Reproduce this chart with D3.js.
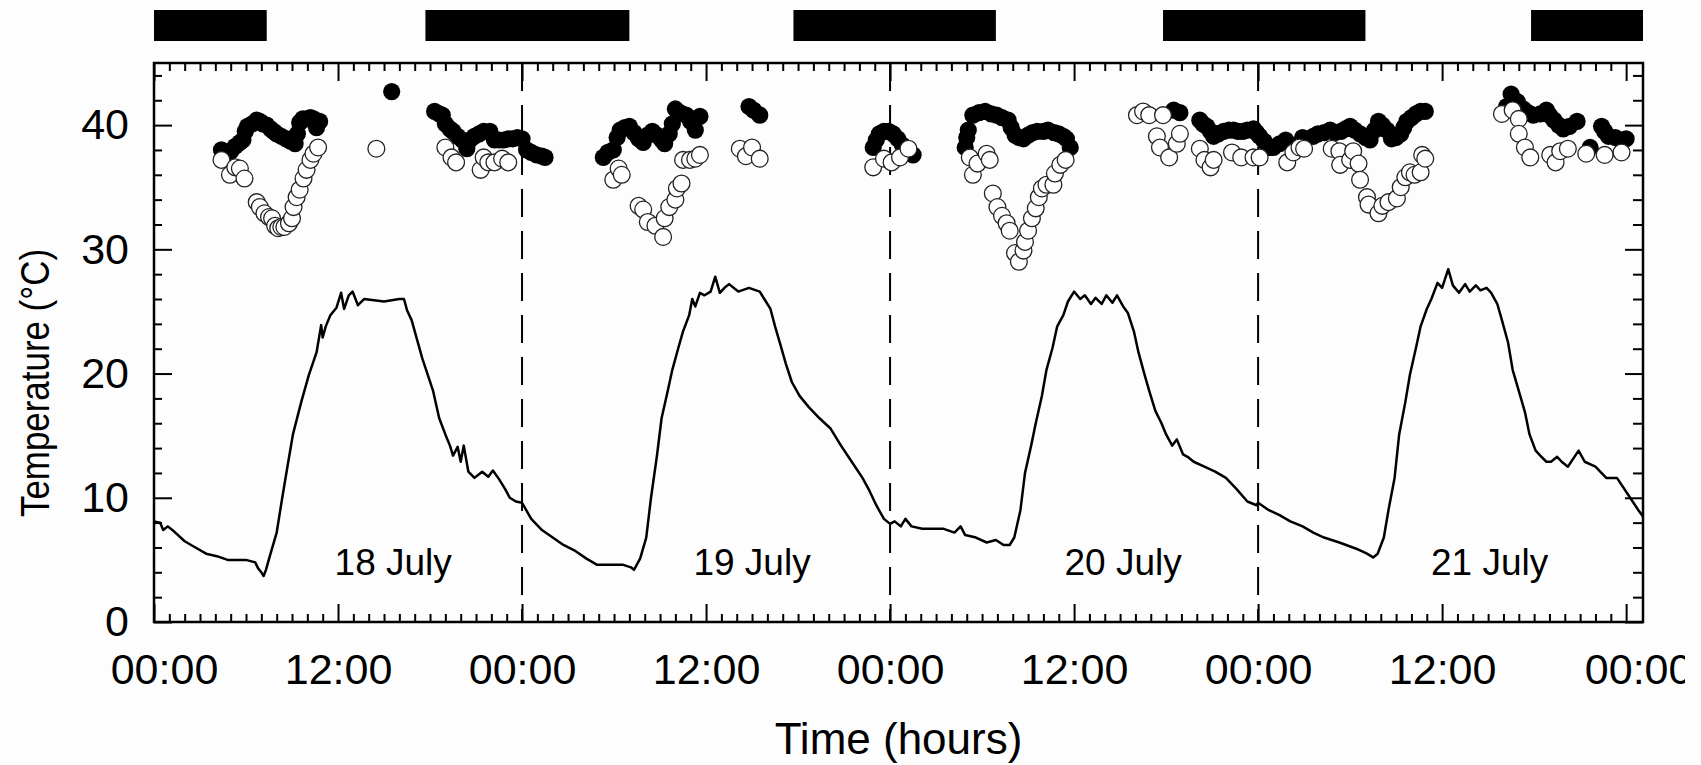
<!DOCTYPE html>
<html>
<head>
<meta charset="utf-8">
<script src="https://cdn.jsdelivr.net/npm/d3@7"></script>
<style>
  body { margin: 0; background: #fdfdfd; }
  svg text { font-family: "Liberation Sans", Arial, sans-serif; fill: #000; }
</style>
</head>
<body>
<div id="chart"></div>
<script>
// air temperature trace (hours since 00:00 on 18 July, degrees C)
var lineHours = [0, 0.4, 0.6, 0.9, 1.3, 2.0, 2.7, 3.4, 4.1, 4.8, 6.0, 6.6, 6.8, 7.0, 7.15, 7.3, 7.6, 8.0, 8.35, 8.7, 9.06, 9.6, 10.1, 10.6, 10.9, 11.0, 11.2, 11.5, 11.9, 12.2, 12.4, 12.7, 12.95, 13.3, 13.7, 15.0, 16.0, 16.3, 16.5, 16.8, 17.5, 18.2, 18.6, 19.0, 19.3, 19.5, 19.8, 20.0, 20.2, 20.5, 20.9, 21.4, 21.8, 22.1, 22.5, 22.9, 23.2, 23.6, 24.0,
  24.6, 25.3, 26.0, 26.7, 27.5, 28.2, 28.9, 29.6, 30.6, 31.1, 31.3, 31.7, 32.1, 32.4, 32.8, 33.1, 33.5, 33.8, 34.2, 34.5, 34.9, 35.1, 35.3, 35.6, 35.9, 36.3, 36.6, 36.9, 37.2, 37.5, 38.1, 38.8, 39.5, 39.8, 40.2, 40.5, 40.9, 41.2, 41.6, 42.1, 42.7, 43.4, 44.1, 44.8, 45.5, 46.2, 46.6, 47.1, 47.6, 48.0,
  48.3, 48.7, 49.0, 49.4, 50.1, 51.5, 52.2, 52.6, 52.9, 53.6, 54.3, 54.9, 55.4, 55.8, 56.1, 56.5, 56.8, 57.2, 57.5, 57.9, 58.2, 58.6, 58.9, 59.3, 59.6, 60.0, 60.4, 60.7, 61.1, 61.4, 61.8, 62.1, 62.5, 62.8, 63.2, 63.5, 63.9, 64.2, 64.6, 64.9, 65.3, 65.7, 66.0, 66.4, 66.7, 67.1, 67.4, 67.8, 68.5, 69.2, 69.9, 70.6, 71.3, 71.9,
  72.0, 72.7, 73.4, 74.1, 74.9, 75.6, 76.3, 77.3, 78.4, 79.1, 79.5, 79.8, 80.2, 80.5, 80.9, 81.2, 81.6, 81.9, 82.3, 82.6, 83.0, 83.3, 83.7, 84.0, 84.4, 84.7, 85.1, 85.5, 85.8, 86.2, 86.5, 86.9, 87.2, 87.6, 87.9, 88.3, 88.6, 89.0, 89.4, 89.7, 90.1, 90.4, 90.8, 91.1, 91.5, 91.8, 92.2, 92.9, 93.3, 94.0, 94.7, 95.4, 96.1, 96.8, 97.1];
var lineTemps = [8.1, 8.0, 7.4, 7.7, 7.3, 6.5, 6.0, 5.5, 5.3, 5.0, 5.0, 4.8, 4.3, 4.0, 3.7, 4.2, 5.5, 7.2, 9.9, 12.5, 15.1, 17.7, 19.9, 21.7, 23.9, 22.9, 23.8, 24.7, 25.3, 26.5, 25.2, 26.3, 26.6, 25.5, 26.0, 25.8, 26.0, 26.0, 25.1, 24.3, 21.2, 18.6, 16.4, 15.1, 14.2, 13.4, 14.1, 12.9, 14.2, 12.1, 11.6, 12.1, 11.7, 12.2, 11.5, 10.7, 10.0, 9.7, 9.6,
  8.3, 7.4, 6.8, 6.2, 5.7, 5.1, 4.6, 4.6, 4.6, 4.4, 4.2, 5.1, 6.8, 9.9, 13.4, 16.4, 18.6, 20.3, 22.1, 23.4, 24.7, 26.0, 25.4, 26.5, 26.3, 26.6, 27.8, 26.5, 26.9, 27.2, 26.6, 26.9, 26.6, 26.0, 25.2, 23.8, 22.1, 20.8, 19.3, 18.2, 17.3, 16.4, 15.6, 14.2, 12.9, 11.6, 10.7, 9.4, 8.3, 7.9,
  8.1, 7.7, 8.3, 7.7, 7.5, 7.5, 7.2, 7.7, 7.0, 6.8, 6.4, 6.6, 6.2, 6.2, 6.8, 9.0, 12.0, 14.2, 16.0, 18.2, 20.3, 22.1, 23.8, 24.7, 25.8, 26.6, 26.0, 26.3, 25.6, 26.1, 25.6, 26.3, 25.7, 26.3, 25.4, 24.9, 23.4, 21.7, 19.9, 18.6, 17.0, 16.0, 15.1, 14.2, 14.7, 13.5, 13.3, 12.9, 12.5, 12.1, 11.6, 10.7, 9.7, 9.4,
  9.6, 9.0, 8.6, 8.1, 7.7, 7.2, 6.8, 6.4, 5.9, 5.5, 5.2, 5.5, 6.8, 9.0, 11.6, 15.1, 17.7, 19.9, 22.1, 23.8, 25.2, 26.0, 27.3, 26.9, 28.4, 27.1, 26.5, 27.2, 26.6, 27.1, 26.7, 26.9, 26.5, 25.6, 24.3, 22.5, 20.3, 18.6, 16.9, 15.1, 13.8, 13.4, 12.9, 12.9, 13.3, 12.9, 12.5, 13.8, 12.9, 12.5, 11.6, 11.6, 10.3, 9.0, 8.5];

// body temperature, filled circles
var filledHours = [4.4, 4.7, 5.0, 5.3, 5.6, 5.8, 5.95, 6.1, 6.4, 6.7, 6.9, 7.1, 7.35, 7.6, 7.8, 8.0, 8.3, 8.6, 8.9, 9.2, 9.35, 9.5, 9.7, 9.95, 10.2, 10.4, 10.6, 10.8,
  15.5,
  18.3, 18.6, 18.8, 19.0, 19.3, 19.5, 19.8, 20.1, 20.4, 20.6, 20.9, 21.2, 21.5, 21.9, 22.2, 22.5, 22.8, 23.1, 23.4, 23.7, 24.0, 24.3, 24.6, 24.95, 25.3, 25.5,
  29.3, 29.6, 29.95, 30.2, 30.4, 30.7, 31.0, 31.3, 31.6, 31.9, 32.2, 32.5, 32.8, 33.1, 33.3, 33.6, 33.8, 34.0, 34.3, 34.7, 35.0, 35.3, 35.6,
  38.8, 39.1, 39.5,
  46.9, 47.1, 47.3, 47.6, 47.9, 48.2, 48.5, 48.8, 49.1, 49.5,
  52.9, 53.0, 53.1, 53.4, 53.8, 54.2, 54.6, 54.95, 55.3, 55.7, 55.9, 56.15, 56.4, 56.7, 57.0, 57.3, 57.6, 58.0, 58.3, 58.7, 59.0, 59.3, 59.5, 59.75,
  66.5, 66.9, 68.2, 68.4, 68.65, 68.9, 69.1, 69.4, 69.75, 70.1, 70.4, 70.7, 71.0, 71.3, 71.7, 71.9, 72.1, 72.4, 72.7, 73.0, 73.4, 73.8, 74.3, 74.9,
  75.6, 75.9, 76.3, 76.7, 77.0, 77.4, 77.7, 78.0, 78.3, 78.65, 79.0, 79.3, 79.6, 79.85, 80.1, 80.4, 80.7, 81.0, 81.3, 81.5, 81.7, 82.0, 82.3, 82.6, 82.9,
  88.2, 88.5, 88.9, 89.3, 89.6, 89.95, 90.4, 90.8, 91.0, 91.3, 91.6, 91.9, 92.3, 92.8, 93.65, 94.4, 94.6, 94.85, 95.3, 96.0];
var filledTemps = [38.0, 37.7, 37.9, 38.3, 38.6, 38.8, 39.5, 39.9, 40.1, 40.4, 40.3, 40.1, 40.0, 39.7, 39.5, 39.3, 39.1, 38.9, 38.7, 38.5, 39.3, 40.2, 40.5, 40.5, 40.6, 40.5, 39.8, 40.3,
  42.7,
  41.1, 40.9, 40.8, 40.1, 39.7, 39.5, 39.1, 38.8, 38.1, 38.8, 39.1, 39.3, 39.5, 39.5, 38.8, 38.8, 38.8, 38.9, 38.9, 39.0, 38.9, 38.0, 37.8, 37.6, 37.5, 37.4,
  37.4, 37.8, 38.0, 39.0, 39.6, 39.8, 39.9, 39.4, 38.9, 38.6, 39.2, 39.5, 39.2, 38.8, 38.5, 39.3, 40.1, 41.3, 41.0, 40.8, 40.3, 39.6, 40.7,
  41.5, 41.2, 40.8,
  38.2, 38.8, 39.3, 39.5, 39.5, 39.3, 38.9, 38.4, 38.0, 37.6,
  38.2, 39.0, 39.6, 40.8, 41.0, 41.1, 40.9, 40.8, 40.6, 40.4, 39.8, 39.2, 39.0, 38.9, 39.2, 39.4, 39.5, 39.5, 39.6, 39.4, 39.3, 39.1, 38.9, 38.2,
  41.2, 41.0, 40.4, 40.1, 39.9, 39.5, 39.1, 39.3, 39.5, 39.6, 39.6, 39.5, 39.5, 39.6, 39.7, 39.4, 39.1, 38.7, 38.2, 38.2, 38.5, 38.8, 38.3, 39.0,
  39.1, 39.3, 39.4, 39.6, 39.4, 39.5, 39.7, 39.9, 39.6, 39.3, 39.0, 38.8, 39.6, 40.3, 40.0, 39.6, 38.9, 39.0, 39.3, 39.8, 40.3, 40.6, 40.9, 41.1, 41.1,
  41.5, 42.5, 41.9, 41.3, 41.0, 40.8, 40.9, 41.2, 40.8, 40.4, 40.0, 39.7, 39.9, 40.3, 38.2, 39.9, 39.5, 39.1, 39.0, 38.9];

// body temperature, open circles
var openHours = [4.4, 4.95, 5.3, 5.6, 5.9, 6.7, 6.9, 7.2, 7.5, 7.7, 7.9, 8.1, 8.3, 8.5, 8.8, 9.0, 9.1, 9.3, 9.5, 9.75, 9.95, 10.2, 10.4, 10.7,
  14.5,
  19.0, 19.4, 19.7, 21.3, 21.5, 21.8, 22.2, 22.7, 23.1,
  29.95, 30.3, 30.5, 31.6, 31.9, 32.2, 32.7, 33.2, 33.3, 33.6, 34.0, 34.1, 34.4, 34.5, 34.95, 35.3, 35.6,
  38.2, 38.6, 39.0, 39.5,
  46.9, 47.6, 48.1, 48.65, 49.2,
  53.2, 53.4, 53.7, 54.3, 54.5, 54.7, 55.0, 55.3, 55.6, 55.8, 56.15, 56.4, 56.7, 56.8, 57.0, 57.25, 57.5, 57.7, 57.9, 58.2, 58.65, 58.75, 59.1, 59.45,
  64.1, 64.5, 64.9, 65.8, 65.4, 65.6, 66.2, 66.7, 66.9,
  68.2, 68.5, 68.9, 69.1, 70.3, 70.9, 71.7, 72.1, 73.9, 74.3, 74.7, 75.0,
  76.8, 77.3, 77.35, 78.0, 78.2, 78.55, 78.65, 79.1, 79.2, 79.85, 80.1, 80.5, 81.05, 81.3, 81.6, 81.9, 82.2, 82.6, 82.7, 82.9,
  87.9, 88.6, 89.0, 89.0, 89.4, 89.75, 91.05, 91.4, 91.7, 92.2, 93.4, 94.6, 95.7];
var openTemps = [37.2, 36.0, 36.6, 36.5, 35.7, 33.8, 33.4, 32.9, 32.6, 32.5, 31.9, 31.7, 31.8, 31.8, 32.1, 32.5, 33.4, 34.2, 34.8, 35.7, 36.4, 37.2, 37.7, 38.2,
  38.1,
  38.2, 37.4, 37.0, 36.4, 37.4, 37.0, 37.0, 37.3, 37.0,
  35.6, 36.5, 36.0, 33.5, 33.2, 32.2, 31.9, 31.0, 32.5, 33.4, 34.0, 34.9, 35.3, 37.2, 37.2, 37.3, 37.6,
  38.1, 37.5, 38.2, 37.3,
  36.6, 37.3, 37.0, 37.4, 38.1,
  37.4, 36.0, 36.9, 37.7, 37.2, 34.5, 33.4, 32.7, 32.1, 31.5, 29.7, 29.0, 29.9, 30.6, 31.5, 32.5, 33.3, 34.2, 34.9, 35.2, 35.2, 36.1, 36.8, 37.2,
  40.8, 41.1, 40.8, 40.8, 39.1, 38.2, 37.4, 38.5, 39.3,
  38.1, 37.2, 36.6, 37.2, 37.8, 37.4, 37.4, 37.4, 37.0, 37.8, 38.2, 38.1,
  38.1, 37.9, 36.8, 37.2, 37.9, 36.9, 35.6, 34.2, 33.6, 32.9, 33.5, 33.8, 34.1, 35.0, 35.8, 36.2, 36.0, 36.2, 37.6, 37.3,
  40.9, 41.2, 40.5, 39.3, 38.2, 37.4, 37.6, 37.0, 37.9, 38.1, 37.7, 37.6, 37.8];

// dark periods shown as bars above the plot (hours)
var darkStart = [0, 17.7, 41.7, 65.8, 89.8];
var darkEnd = [7.35, 31.0, 54.9, 79.0, 97.1];

var midnightHours = [24, 48, 72];
var dayLabels = ["18 July", "19 July", "20 July", "21 July"];
var dayLabelHours = [15.6, 39.0, 63.2, 87.1];
var dayLabelTemp = 3.8;

var majorHours = [0, 12, 24, 36, 48, 60, 72, 84, 96];
var majorLabels = ["00:00", "12:00", "00:00", "12:00", "00:00", "12:00", "00:00", "12:00", "00:00"];
var yMajor = [0, 10, 20, 30, 40];

var W = 1701, H = 765;
var margin = { top: 63, right: 58, bottom: 143, left: 154 };
var width = W - margin.left - margin.right,
  height = H - margin.top - margin.bottom;

var svg = d3.select("#chart").append("svg")
  .attr("width", W).attr("height", H)
  .style("background", "#fdfdfd");

// the original picture is cropped a little short of its right edge
svg.append("clipPath").attr("id", "crop")
  .append("rect").attr("width", 1685).attr("height", H);
var root = svg.append("g").attr("clip-path", "url(#crop)");

var x = d3.scaleLinear().domain([0, 97.1]).range([0, width]);
var y = d3.scaleLinear().domain([0, 45]).range([height, 0]);

// dark bars above the frame
root.append("g").selectAll("rect")
  .data(darkStart)
  .enter().append("rect")
  .attr("x", (d) => margin.left + x(d))
  .attr("width", (d, i) => x(darkEnd[i]) - x(d))
  .attr("y", 10)
  .attr("height", 31)
  .attr("fill", "#000");

var g = root.append("g").attr("transform", "translate(" + margin.left + "," + margin.top + ")");

// ticks, all pointing inward
var minorX = d3.range(0, 97, 1).filter((h) => h % 12 !== 0);
var minorY = d3.range(0, 46, 2).filter((v) => v % 10 !== 0);

function styleAxis(sel) {
  sel.select(".domain").remove();
  sel.selectAll("line").attr("stroke", "#000").attr("stroke-width", 2);
}

g.append("g").attr("transform", "translate(0," + height + ")")
  .call(d3.axisBottom(x).tickValues(minorX).tickSize(-8).tickFormat(""))
  .call(styleAxis);
g.append("g").attr("transform", "translate(0," + height + ")")
  .call(d3.axisBottom(x).tickValues(majorHours).tickSize(-18).tickPadding(31)
    .tickFormat((d, i) => majorLabels[i]))
  .call(styleAxis)
  .selectAll("text")
  .style("font-size", "43px")
  // end labels sit a bit to the right in the original
  .attr("dx", (d, i) => (i === 0 ? 10 : i === majorHours.length - 1 ? 12 : 0));
g.append("g")
  .call(d3.axisTop(x).tickValues(minorX).tickSize(-8).tickFormat(""))
  .call(styleAxis);
g.append("g")
  .call(d3.axisTop(x).tickValues(majorHours).tickSize(-18).tickFormat(""))
  .call(styleAxis);

g.append("g")
  .call(d3.axisLeft(y).tickValues(minorY).tickSize(-8).tickFormat(""))
  .call(styleAxis);
g.append("g")
  .call(d3.axisLeft(y).tickValues(yMajor).tickSize(-18).tickPadding(25))
  .call(styleAxis)
  .selectAll("text").style("font-size", "43px");
g.append("g").attr("transform", "translate(" + width + ",0)")
  .call(d3.axisRight(y).tickValues(minorY).tickSize(-10).tickFormat(""))
  .call(styleAxis);
g.append("g").attr("transform", "translate(" + width + ",0)")
  .call(d3.axisRight(y).tickValues(yMajor).tickSize(-18).tickFormat(""))
  .call(styleAxis);

// dashed midnight lines
g.append("g").selectAll("line")
  .data(midnightHours)
  .enter().append("line")
  .attr("x1", (d) => x(d)).attr("x2", (d) => x(d))
  .attr("y1", 0).attr("y2", height)
  .attr("stroke", "#000").attr("stroke-width", 2)
  .attr("stroke-dasharray", "28,14");

// air temperature line
var line = d3.line().x((d) => x(d[0])).y((d) => y(d[1]));
g.append("path")
  .datum(d3.zip(lineHours, lineTemps))
  .attr("d", line)
  .attr("fill", "none").attr("stroke", "#000").attr("stroke-width", 2.5)
  .attr("stroke-linejoin", "round");

// filled circles under open ones
g.append("g").selectAll("circle")
  .data(d3.zip(filledHours, filledTemps))
  .enter().append("circle")
  .attr("cx", (d) => x(d[0])).attr("cy", (d) => y(d[1]))
  .attr("r", 8.6)
  .attr("fill", "#000");

g.append("g").selectAll("circle")
  .data(d3.zip(openHours, openTemps))
  .enter().append("circle")
  .attr("cx", (d) => x(d[0])).attr("cy", (d) => y(d[1]))
  .attr("r", 8.4)
  .attr("fill", "#fff").attr("stroke", "#222").attr("stroke-width", 1.3);

// day labels
g.append("g").selectAll("text")
  .data(dayLabels)
  .enter().append("text")
  .attr("x", (d, i) => x(dayLabelHours[i]))
  .attr("y", y(dayLabelTemp))
  .attr("text-anchor", "middle")
  .style("font-size", "37px")
  .text((d) => d);

// frame
g.append("rect")
  .attr("width", width).attr("height", height)
  .attr("fill", "none").attr("stroke", "#000").attr("stroke-width", 2.5);

// axis titles
root.append("text")
  .attr("x", margin.left + width / 2)
  .attr("y", 754)
  .attr("text-anchor", "middle")
  .style("font-size", "44px")
  .text("Time (hours)");

root.append("text")
  .attr("transform", "translate(49,383) rotate(-90)")
  .attr("text-anchor", "middle")
  .attr("textLength", 268)
  .attr("lengthAdjust", "spacingAndGlyphs")
  .style("font-size", "40px")
  .text("Temperature (°C)");
</script>
</body>
</html>
